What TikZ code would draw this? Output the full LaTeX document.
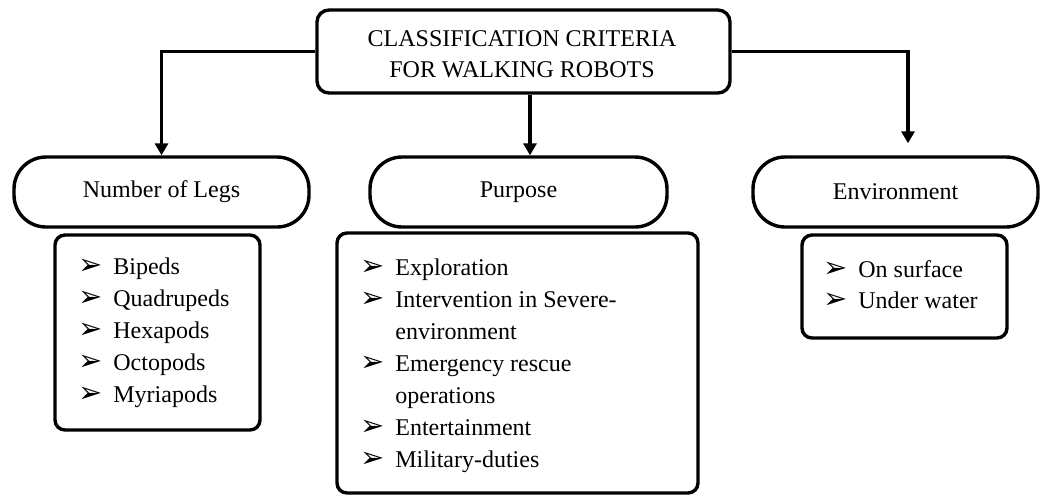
\documentclass[tikz,border=0pt]{standalone}
\usepackage{fontspec}
\setmainfont{Liberation Serif}
\newfontfamily\dvfont{DejaVu Sans}
\usetikzlibrary{arrows.meta}
\begin{document}
\begin{tikzpicture}[x=0.5pt,y=-0.5pt,
  box/.style={draw,line width=1.7pt,rounded corners=6pt,inner sep=0pt},
  pill/.style={draw,line width=1.7pt,rounded corners=16pt,inner sep=0pt,minimum height=35pt,font=\fontsize{12}{14}\selectfont},
  lst/.style={draw,line width=1.7pt,rounded corners=5pt,inner sep=0pt},
  conn/.style={line width=1.7pt,-{Triangle[length=6pt,width=6.5pt]}},
  item/.style={anchor=base west,inner sep=0pt,font=\fontsize{12}{14}\selectfont},
  bul/.style={anchor=base west,inner sep=0pt,font=\dvfont\fontsize{14.5}{15}\selectfont},
]
\useasboundingbox[fill=white] (0,0) rectangle (1043,495);

% root
\node[box,minimum width=206.5pt,minimum height=41.5pt] (root) at (523.5,51.5) {};
\node[align=center,inner sep=0pt,font=\fontsize{12}{15.5}\selectfont] (title) at (522,54) {CLASSIFICATION CRITERIA\\FOR WALKING ROBOTS};

% categories
\node[pill,minimum width=147.5pt] (legs) at (161.5,192) {Number of Legs};
\node[pill,minimum width=148.5pt] (purpose) at (518.5,192) {Purpose};
\node[pill,minimum width=142.5pt] (env) at (895.5,192) {Environment};

% connectors
\draw[conn] (root.west) -| (legs.north);
\draw[conn] ([xshift=3.25pt]root.south) -- ([xshift=3.25pt]root.south |- purpose.north);
\draw[conn] (root.east) -| ([xshift=6.25pt,yshift=6pt]env.north);

% list boxes
\node[lst,minimum width=102.5pt,minimum height=97.5pt] (legslist) at (157.5,332.5) {};
\node[lst,minimum width=180.5pt,minimum height=130pt] (purplist) at (517.5,363) {};
\node[lst,minimum width=102.5pt,minimum height=51.5pt] (envlist) at (904.5,286.5) {};

% legs items
\node[bul] (lb1) at (78,274) {➢}; \node[item] (l1) at (113,274) {Bipeds};
\node[bul] (lb2) at (78,306) {➢}; \node[item] (l2) at (113,306) {Quadrupeds};
\node[bul] (lb3) at (78,338) {➢}; \node[item] (l3) at (113,338) {Hexapods};
\node[bul] (lb4) at (78,370) {➢}; \node[item] (l4) at (113,370) {Octopods};
\node[bul] (lb5) at (78,402) {➢}; \node[item] (l5) at (113,402) {Myriapods};

% purpose items
\node[bul] (pb1) at (360,275) {➢}; \node[item] (p1) at (395,275) {Exploration};
\node[bul] (pb2) at (360,307) {➢}; \node[item] (p2) at (395,307) {Intervention in Severe-};
\node[item] (p2b) at (395,339) {environment};
\node[bul] (pb3) at (360,371) {➢}; \node[item] (p3) at (395,371) {Emergency rescue};
\node[item] (p3b) at (395,403) {operations};
\node[bul] (pb4) at (360,435) {➢}; \node[item] (p4) at (395,435) {Entertainment};
\node[bul] (pb5) at (360,467) {➢}; \node[item] (p5) at (395,467) {Military-duties};

% environment items
\node[bul] (eb1) at (823,277) {➢}; \node[item] (e1) at (858,277) {On surface};
\node[bul] (eb2) at (823,308) {➢}; \node[item] (e2) at (858,308) {Under water};
\end{tikzpicture}
\end{document}
